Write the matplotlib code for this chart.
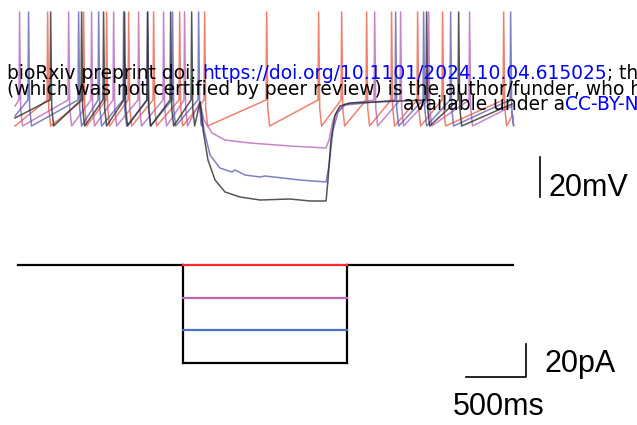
import matplotlib
matplotlib.use("Agg")
import matplotlib.pyplot as plt

# ---------------- data ----------------
# voltage traces (ms, mV)
thr_mv, peak_mv, trough_mv = -39.0, 5.0, -52.0
trace_start_ms, trace_end_ms = -25, 4117

red_spikes = [242, 542, 733, 917, 1125, 1342, 1550, 2067, 2500, 2692, 2900,
              3108, 3325, 3533, 4042]
pink_pre = [8, 417, 608, 792, 1000, 1208, 1383]
pink_post = [2967, 3183, 3417, 3758]
blue_pre = [83, 500, 667, 875, 1075, 1283, 1500]
blue_post = [3142, 3375, 3600, 4100]
black_pre = [267, 525, 708, 883, 1075, 1267, 1442]
black_post = [3400, 3667]

start_mv = {"red": -52, "pink": -42, "blue": -47, "black": -48}
end_mv = {"red": -47, "pink": -42, "blue": -45, "black": -41}

pink_step_t = [1517, 1550, 1617, 1725, 1933, 2267, 2567, 2592, 2625, 2667, 2725]
pink_step_v = [-40, -49, -55.5, -59, -60.5, -62, -63, -59, -49, -44, -41]
blue_step_t = [1517, 1550, 1600, 1683, 1783, 1808, 1892, 2017, 2058, 2350,
               2567, 2592, 2625, 2667, 2725]
blue_step_v = [-40, -54, -66.5, -73, -75, -74, -76.5, -77.5, -77, -79,
               -80, -71.5, -54, -45, -41.5]
black_step_t = [1517, 1542, 1583, 1642, 1725, 1850, 2017, 2267, 2433, 2567,
                2583, 2608, 2642, 2683, 2767]
black_step_v = [-40, -54, -69, -79, -85, -87.5, -89, -88.5, -89.5, -89.5,
                -79, -59, -46.5, -42, -40.5]

# current command (ms, pA)
sweep_ms = [0, 4125]
step_on_ms, step_off_ms = 1375, 2742
current_levels = [0, -20, -40, -60]
current_colors = ["#ff2b2b", "#c064b4", "#4a72c4", "#000000"]

scale_v_mv = 20
scale_i_pa = 20
scale_t_ms = 500

# ---------------- layout (pixel mapping) ----------------
W, H = 637, 425
MS_PER_PX, X0_PX = 8.333, 18
V0_PX, PX_PER_MV = 22, 2.0
I0_PX, PX_PER_PA = 265, 1.633

fig = plt.figure(figsize=(W / 100, H / 100), dpi=100)
axv = fig.add_axes([0, 0, 1, 1])
axi = fig.add_axes([0, 0, 1, 1])
xl = (-X0_PX * MS_PER_PX, (W - X0_PX) * MS_PER_PX)
for ax in (axv, axi):
    ax.set_xlim(*xl)
    ax.axis("off")
    ax.patch.set_alpha(0)
axv.set_ylim((V0_PX - H) / PX_PER_MV, V0_PX / PX_PER_MV)
axi.set_ylim((I0_PX - H) / PX_PER_PA, I0_PX / PX_PER_PA)


def add_spikes(pts, spikes):
    for ts in spikes:
        pts += [(ts, thr_mv), (ts + 5, peak_mv), (ts + 14, thr_mv - 4),
                (ts + 30, trough_mv)]


def build(name, pre, step_t=None, step_v=None, post=None):
    pts = [(trace_start_ms, start_mv[name])]
    add_spikes(pts, pre)
    if step_t is not None:
        pts += list(zip(step_t, step_v))
        add_spikes(pts, post)
    pts.append((trace_end_ms, end_mv[name]))
    t, v = zip(*pts)
    return t, v


traces = [
    (build("red", red_spikes), "#ee6a55", 0.85),
    (build("pink", pink_pre, pink_step_t, pink_step_v, pink_post), "#b45cb4", 0.75),
    (build("blue", blue_pre, blue_step_t, blue_step_v, blue_post), "#5656b0", 0.75),
    (build("black", black_pre, black_step_t, black_step_v, black_post), "#2a2a2a", 0.8),
]
for (t, v), c, a in traces:
    axv.plot(t, v, color=c, alpha=a, lw=1.1, solid_joinstyle="round")

# current steps
lw_i = 1.6
axi.plot([sweep_ms[0], step_on_ms], [0, 0], color="black", lw=lw_i)
axi.plot([step_off_ms, sweep_ms[1]], [0, 0], color="black", lw=lw_i)
axi.plot([step_on_ms, step_on_ms], [0, min(current_levels)], color="black", lw=lw_i)
axi.plot([step_off_ms, step_off_ms], [0, min(current_levels)], color="black", lw=lw_i)
for lev, c in zip(current_levels, current_colors):
    axi.plot([step_on_ms, step_off_ms], [lev, lev], color=c, lw=lw_i)

# scale bars
fs = 22
font = "Liberation Sans"
sb_t0 = (466 - X0_PX) * MS_PER_PX
sb_i0 = (I0_PX - 377) / PX_PER_PA
axi.plot([sb_t0, sb_t0 + scale_t_ms, sb_t0 + scale_t_ms],
         [sb_i0, sb_i0, sb_i0 + scale_i_pa], color="black", lw=1.2)
axi.text((545 - X0_PX) * MS_PER_PX, (I0_PX - 372) / PX_PER_PA, f"{scale_i_pa}pA",
         fontsize=fs, family=font, va="baseline", ha="left")
axi.text((453 - X0_PX) * MS_PER_PX, (I0_PX - 415) / PX_PER_PA, f"{scale_t_ms}ms",
         fontsize=fs, family=font, va="baseline", ha="left")

sv_t = (540 - X0_PX) * MS_PER_PX
sv_v0 = (V0_PX - 197) / PX_PER_MV
axv.plot([sv_t, sv_t], [sv_v0, sv_v0 + scale_v_mv], color="black", lw=1.2)
axv.text((548 - X0_PX) * MS_PER_PX, (V0_PX - 196) / PX_PER_MV, f"{scale_v_mv}mV",
         fontsize=fs, family=font, va="baseline", ha="left")

# bioRxiv header (segments chained on each line)
hfs = 13.4
hfont = "DejaVu Sans"
blue_link = "#0000ff"
space_pt = 0.318 * hfs
header_lines = [
    (7, 79, [("bioRxiv preprint doi:", "black", 0),
             ("https://doi.org/10.1101/2024.10.04.615025", blue_link, space_pt),
             ("; this version posted October 8, 2024. The copyright holder for this preprint", "black", 0)]),
    (7, 95, [("(which was not certified by peer review) is the author/funder, who has granted bioRxiv a license to display the preprint in perpetuity. It is made", "black", 0)]),
    (403, 110, [("available under a", "black", 0),
                ("CC-BY-NC-ND 4.0 International license", blue_link, 0)]),
]
for x, y, segs in header_lines:
    prev = None
    for s, c, dx in segs:
        if prev is None:
            prev = fig.text(x / W, 1 - y / H, s, fontsize=hfs, family=hfont,
                            color=c, va="baseline", ha="left")
        else:
            prev = axv.annotate(s, xy=(1, 0), xycoords=prev, xytext=(dx, 0),
                                textcoords="offset points", fontsize=hfs,
                                family=hfont, color=c, va="bottom", ha="left",
                                zorder=5)

fig.savefig("out.png", dpi=100)
